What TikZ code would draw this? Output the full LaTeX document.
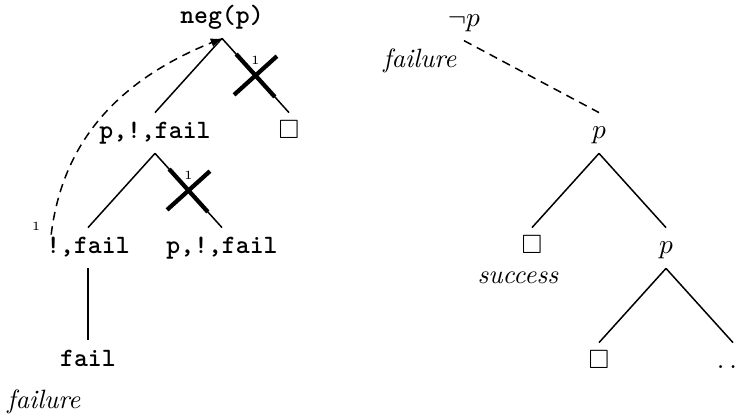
\documentclass[tikz,border=0pt]{standalone}
\usepackage{amsmath}
\usepackage{amssymb}
\usetikzlibrary{positioning,arrows.meta}

\begin{document}
\begin{tikzpicture}[x=0.4pt, y=0.4pt, on grid, node distance=46pt and 26.8pt,
        every node/.style = {font=\fontsize{10.6}{13}\selectfont},
        main/.style = {font=\fontsize{10.6}{13}\selectfont\ttfamily\bfseries, text height=1.6ex, text depth=.5ex},
        cut/.style = {sloped, inner sep=0pt, minimum size=22.5pt},
        tick/.style = {font=\tiny, inner sep=0pt},
        every path/.style = {line width=.6pt}]
                \useasboundingbox (0,0) rectangle (742,415);
                % SLD tree for neg(p)
                \node[main] (1) at (222,397) {neg(p)};
                \node[main] (2) [below left = of 1] {p,!,fail};
                \node[main] (3) [below right = of 1] {$\square$};
                \node[main] (4) [below left = of 2] {!,fail};
                \node[main] (5) [below right = of 2] {p,!,fail};
                \node[main] (6) [below = 45pt of 4] {fail};
                \node (f1) at (44,13) {\textit{failure}};
                \draw (1.south) -- (2.north);
                \draw (1.south) -- node[cut] (c1) {} (3.north);
                \draw (2.south) -- (4.north);
                \draw (2.south) -- node[cut] (c2) {} (5.north);
                \draw (4.south) -- (6.north);
                % cuts
                \draw[line width=1.7pt] (c1.west) -- (c1.east) (c1.north) -- (c1.south);
                \draw[line width=1.7pt] (c2.west) -- (c2.east) (c2.north) -- (c2.south);
                \node[tick] [above = 6pt of c1] {1};
                \node[tick] [above = 6pt of c2] {1};
                \coordinate (a) at ([shift={(14,-7)}]4.north west);
                \draw[dash pattern=on 3.4pt off 2.4pt, -{Latex[length=4.5pt,width=3.6pt]}] (a) to[out=83, in=202] (1.south);
                \node[tick] [above left = 1.2pt and 4pt of a] {1};
                % the same tree for the negation
                \node (7) at (464,392) {$\neg p$};
                \node[main] (8) [below right = 44pt and 54pt of 7] {$p$};
                \node[main] (9) [below left = of 8] {$\square$};
                \node[main] (10) [below right = of 8] {$p$};
                \node[main] (11) [below left = of 10] {$\square$};
                \node[main] (12) [below right = 46pt and 24.4pt of 10] {$.\hspace{2pt}.$};
                \node (f2) [below left = 15.2pt and 17.6pt of 7] {\textit{failure}};
                \node (s1) [below left = 12pt and 5.6pt of 9] {\textit{success}};
                \draw[dash pattern=on 3.4pt off 2.4pt] (7.south) -- (8.north);
                \draw (8.south) -- (9.north);
                \draw (8.south) -- (10.north);
                \draw (10.south) -- (11.north);
                \draw (10.south) -- ([xshift=2.4pt]12.north);
            \end{tikzpicture}
\end{document}
